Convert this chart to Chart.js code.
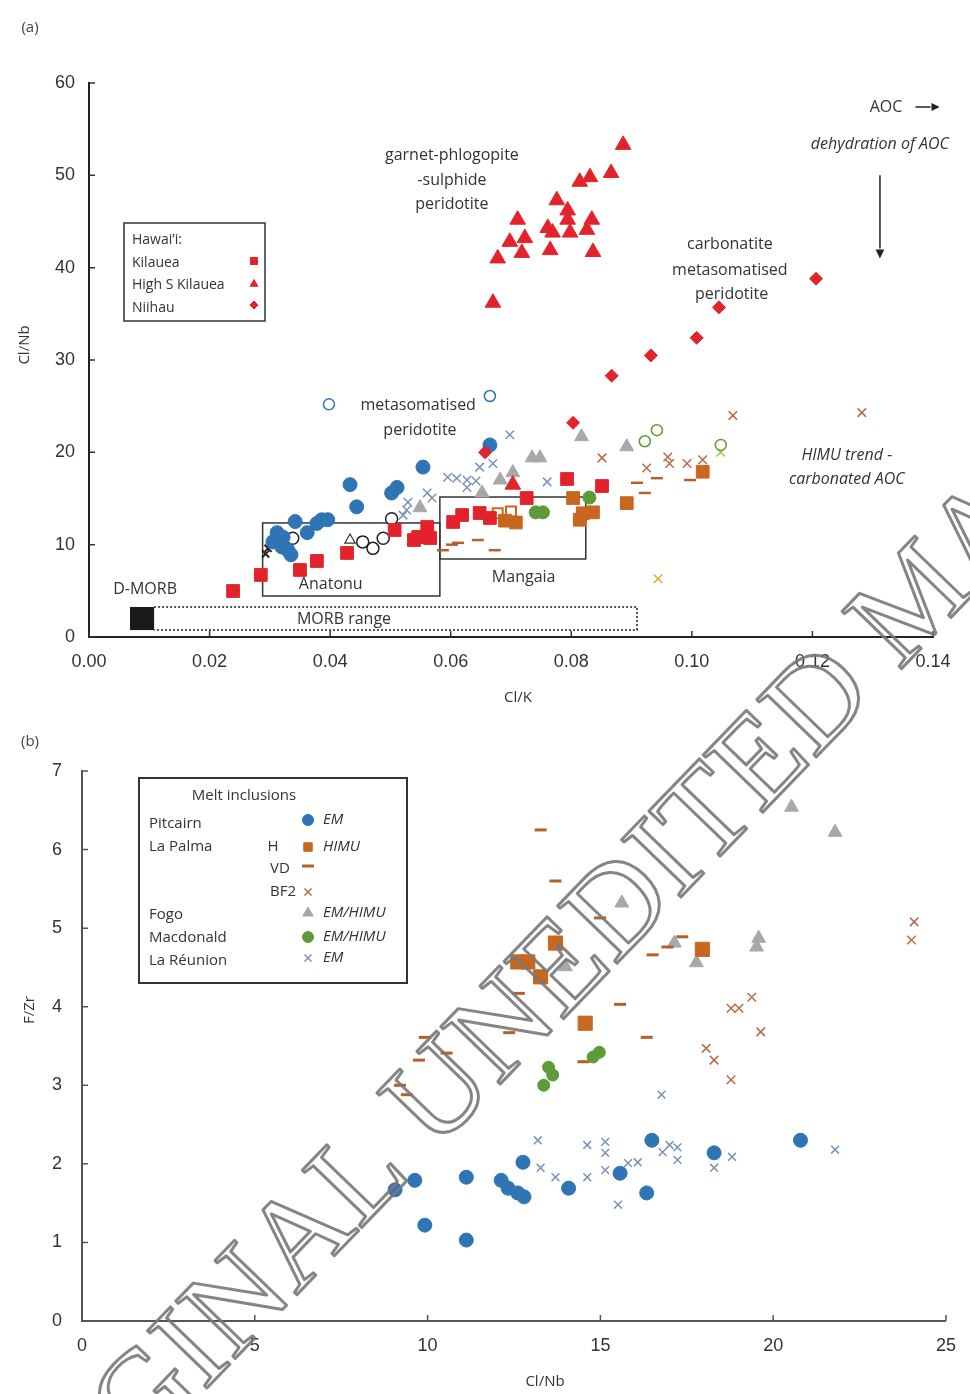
<!DOCTYPE html>
<html>
<head>
<meta charset="utf-8">
<script src="https://cdn.jsdelivr.net/npm/chart.js@4.4.0/dist/chart.umd.min.js"></script>
<style>
body { margin: 0; background: #fff; }
#wrap { position: relative; width: 970px; height: 1394px; }
canvas { position: absolute; left: 0; }
</style>
</head>
<body>
<div id="wrap">
  <canvas id="chartA" width="970" height="720" style="top:0"></canvas>
  <canvas id="chartB" width="970" height="674" style="top:720px"></canvas>
</div>
<script>
// ---------- panel (a): Cl/K vs Cl/Nb ----------
const ticksA_x = [0, 0.02, 0.04, 0.06, 0.08, 0.10, 0.12, 0.14];
const ticksA_y = [0, 10, 20, 30, 40, 50, 60];

const kilaueaX = [0.0239,0.0285,0.0350,0.0378,0.0428,0.0507,0.0539,0.0546,0.0561,0.0566,0.0604,0.0619,0.0648,0.0665,0.0726,0.0793,0.0851];
const kilaueaY = [4.98,6.72,7.26,8.23,9.10,11.59,10.5,10.83,11.91,10.72,12.46,13.21,13.43,12.89,15.05,17.11,16.35];

const highSX = [0.0886,0.0866,0.0831,0.0814,0.0776,0.0794,0.0794,0.0834,0.0826,0.0798,0.0769,0.0761,0.0711,0.0723,0.0698,0.0718,0.0765,0.0836,0.0678,0.0670,0.0703];
const highSY = [53.3,50.25,49.8,49.3,47.3,46.2,45.2,45.2,44.1,43.8,43.8,44.3,45.2,43.2,42.8,41.6,41.9,41.7,41.0,36.2,16.5];

const niihauX = [0.1206,0.1045,0.1008,0.0932,0.0867,0.0803,0.0657];
const niihauY = [38.8,35.7,32.4,30.5,28.3,23.2,20.0];

const pitcairnAX = [0.0554,0.0433,0.0511,0.0502,0.0444,0.0342,0.0386,0.0396,0.0378,0.0312,0.0322,0.0362,0.0320,0.0330,0.0305,0.0665,0.0335];
const pitcairnAY = [18.4,16.5,16.2,15.6,14.1,12.5,12.7,12.7,12.3,11.3,10.8,11.3,9.75,9.4,10.3,20.8,8.9];

const reunionAX = [0.0698,0.0670,0.0648,0.0595,0.0610,0.0627,0.0642,0.0561,0.0569,0.0529,0.0527,0.0521,0.0627,0.0760];
const reunionAY = [21.9,18.8,18.4,17.3,17.2,17.0,16.9,15.6,15.05,14.6,13.75,13.2,16.2,16.8];

const fogoAX = [0.0817,0.0735,0.0748,0.0682,0.0703,0.0652,0.0892,0.0549];
const fogoAY = [21.7,19.4,19.4,17.0,17.8,15.6,20.6,14.0];

const macdonaldAX = [0.0741,0.0753,0.0830];
const macdonaldAY = [13.5,13.5,15.1];

const palmaHAX = [0.0814,0.0836,0.0819,0.0892,0.1018,0.0690,0.0708,0.0803];
const palmaHAY = [12.7,13.5,13.4,14.5,17.9,12.6,12.4,15.05];
const palmaHOpenX = [0.0678,0.0700];
const palmaHOpenY = [13.4,13.6];

const palmaVDAX = [0.0602,0.0587,0.0612,0.0645,0.0673,0.0909,0.0922,0.0997,0.0942];
const palmaVDAY = [10.0,9.4,10.2,10.5,9.4,16.7,15.6,17.0,17.2];

const palmaBF2AX = [0.0851,0.0925,0.0960,0.0963,0.0992,0.1018,0.1068,0.1282];
const palmaBF2AY = [19.4,18.3,19.5,18.8,18.8,19.2,24.0,24.3];

const yellowX = [0.0944,0.1048];
const yellowY = [6.3,20.0];

const openBlueX = [0.0398,0.0665];
const openBlueY = [25.2,26.1];
const openGreenX = [0.0922,0.0942,0.1048];
const openGreenY = [21.2,22.4,20.8];
const openBlackX = [0.0454,0.0471,0.0488,0.0502,0.0338];
const openBlackY = [10.3,9.6,10.7,12.8,10.7];
const openTriX = [0.0433];
const openTriY = [10.5];
const smallBlackX = [0.0297,0.0293];
const smallBlackY = [9.6,9.0];

// ---------- panel (b): Cl/Nb vs F/Zr ----------
const ticksB_x = [0, 5, 10, 15, 20, 25];
const ticksB_y = [0, 1, 2, 3, 4, 5, 6, 7];

const pitcairnBX = [9.06,9.63,9.92,11.12,11.12,12.13,12.33,12.61,12.79,12.76,14.08,15.57,16.49,16.34,18.29,20.79];
const pitcairnBY = [1.67,1.79,1.22,1.83,1.03,1.79,1.69,1.63,1.58,2.02,1.69,1.88,2.30,1.63,2.14,2.30];

const reunionBX = [13.19,13.27,13.70,14.62,14.62,15.14,15.14,15.14,15.51,15.80,16.08,16.80,17.00,17.23,17.23,18.29,18.81,21.79,16.77];
const reunionBY = [2.30,1.95,1.83,2.24,1.83,2.28,2.14,1.92,1.48,2.01,2.02,2.15,2.24,2.21,2.05,1.95,2.09,2.18,2.88];

const macdonaldBX = [13.50,13.62,13.36,14.79,14.97];
const macdonaldBY = [3.23,3.13,3.00,3.36,3.42];

const palmaHBX = [12.61,12.90,13.27,13.70,14.56,17.95];
const palmaHBY = [4.57,4.57,4.38,4.81,3.79,4.73];

const palmaVDBX = [13.27,13.70,14.99,12.64,12.36,9.92,9.75,10.55,9.20,9.40,15.57,16.34,16.51,16.94,17.37,14.51];
const palmaVDBY = [6.25,5.60,5.13,4.17,3.67,3.61,3.32,3.41,3.00,2.88,4.03,3.61,4.66,4.76,4.89,3.30];

const palmaBF2BX = [19.38,18.78,19.01,19.64,18.06,18.29,18.78,24.08,24.00];
const palmaBF2BY = [4.12,3.98,3.98,3.68,3.47,3.32,3.07,5.08,4.85];

const fogoBX = [20.53,21.79,15.62,19.58,19.52,17.78,13.99,17.14];
const fogoBY = [6.54,6.22,5.32,4.87,4.76,4.56,4.51,4.81];

// colours
const RED = '#e3232b';
const BLUE = '#2f74b5';
const STEEL = '#7b93ba';
const ORANGE = '#c9661f';
const BROWN = '#b4602c';
const BF2 = '#b96a4a';
const GREY = '#a8a8a8';
const GREEN = '#5c9a3a';

function pts(xs, ys) {
  return xs.map((x, i) => ({ x: x, y: ys[i] }));
}

function set(label, xs, ys, style, color, r, fill, bw) {
  return {
    label: label,
    data: pts(xs, ys),
    pointStyle: style,
    pointRadius: r,
    pointHoverRadius: r,
    backgroundColor: fill || color,
    borderColor: color,
    pointBorderWidth: bw || 1
  };
}

// inside tick marks + text helpers
function drawInsideTicks(chart, xs, ys, len, color) {
  const ctx = chart.ctx, a = chart.chartArea;
  const sx = chart.scales.x, sy = chart.scales.y;
  ctx.save();
  ctx.strokeStyle = color;
  ctx.lineWidth = 1.5;
  ctx.beginPath();
  xs.forEach(v => { const p = sx.getPixelForValue(v); ctx.moveTo(p, a.bottom); ctx.lineTo(p, a.bottom - len); });
  ys.forEach(v => { const p = sy.getPixelForValue(v); ctx.moveTo(a.left, p); ctx.lineTo(a.left + len, p); });
  ctx.stroke();
  ctx.restore();
}

function txt(ctx, s, x, y, font, align, color) {
  ctx.font = font;
  ctx.textAlign = align || 'center';
  ctx.textBaseline = 'middle';
  ctx.fillStyle = color || '#333';
  ctx.fillText(s, x, y);
}

function marker(ctx, style, x, y, r, color, fill, bw) {
  ctx.save();
  ctx.fillStyle = fill || color;
  ctx.strokeStyle = color;
  ctx.lineWidth = bw || 1;
  Chart.helpers.drawPoint(ctx, { pointStyle: style, radius: r, rotation: 0, borderWidth: bw || 1 }, x, y);
  ctx.restore();
}

function arrow(ctx, x1, y1, x2, y2, head) {
  const ang = Math.atan2(y2 - y1, x2 - x1);
  ctx.beginPath();
  ctx.moveTo(x1, y1);
  ctx.lineTo(x2 - Math.cos(ang) * head, y2 - Math.sin(ang) * head);
  ctx.stroke();
  ctx.beginPath();
  ctx.moveTo(x2, y2);
  ctx.lineTo(x2 - head * Math.cos(ang - 0.45), y2 - head * Math.sin(ang - 0.45));
  ctx.lineTo(x2 - head * Math.cos(ang + 0.45), y2 - head * Math.sin(ang + 0.45));
  ctx.closePath();
  ctx.fill();
}

const watermark = {
  id: 'watermark',
  afterDraw(chart, args, opts) {
    const ctx = chart.ctx;
    ctx.save();
    ctx.translate(632, 900 - opts.top);
    ctx.rotate(-46 * Math.PI / 180);
    ctx.font = '126px "Liberation Serif"';
    ctx.textBaseline = 'middle';
    ctx.strokeStyle = 'rgba(120,120,120,0.9)';
    ctx.lineWidth = 3;
    ctx.lineJoin = 'round';
    const mid = 'UNEDITED';
    const w = ctx.measureText(mid).width;
    const sp = ctx.measureText(' ').width;
    ctx.textAlign = 'center';
    ctx.strokeText(mid, 0, 0);
    ctx.textAlign = 'right';
    ctx.strokeText('ORIGINAL', -w / 2 - sp, 0);
    ctx.textAlign = 'left';
    ctx.strokeText('MANUSCRIPT', w / 2 + sp, 0);
    ctx.restore();
  }
};

const SANS = '"Open Sans", "Noto Sans", sans-serif';

const annotA = {
  id: 'annotA',
  beforeDatasetsDraw(chart) {
    const ctx = chart.ctx;
    const X = v => chart.scales.x.getPixelForValue(v);
    const Y = v => chart.scales.y.getPixelForValue(v);
    ctx.save();
    // D-MORB block and dotted MORB range
    ctx.fillStyle = '#1a1a1a';
    ctx.fillRect(X(0.0068), Y(3.25), X(0.0108) - X(0.0068), Y(0.75) - Y(3.25));
    ctx.strokeStyle = '#555';
    ctx.lineWidth = 2;
    ctx.setLineDash([2, 2]);
    ctx.beginPath();
    ctx.moveTo(X(0.0108), Y(3.25)); ctx.lineTo(X(0.0909), Y(3.25));
    ctx.lineTo(X(0.0909), Y(0.75)); ctx.lineTo(X(0.0108), Y(0.75));
    ctx.stroke();
    ctx.setLineDash([]);
    // Anatonu / Mangaia boxes
    ctx.strokeStyle = '#333';
    ctx.lineWidth = 1.5;
    ctx.strokeRect(X(0.0288), Y(12.35), X(0.0582) - X(0.0288), Y(4.44) - Y(12.35));
    ctx.strokeRect(X(0.0582), Y(15.16), X(0.0824) - X(0.0582), Y(8.45) - Y(15.16));
    ctx.restore();
  },
  afterDatasetsDraw(chart) {
    const ctx = chart.ctx;
    const X = v => chart.scales.x.getPixelForValue(v);
    const Y = v => chart.scales.y.getPixelForValue(v);
    const f = '16px ' + SANS;
    const fi = 'italic 16px ' + SANS;
    ctx.save();
    txt(ctx, 'garnet-phlogopite', X(0.0602), Y(52.2), f);
    txt(ctx, '-sulphide', X(0.0602), Y(49.5), f);
    txt(ctx, 'peridotite', X(0.0602), Y(46.9), f);
    txt(ctx, 'metasomatised', X(0.0546), Y(25.1), f);
    txt(ctx, 'peridotite', X(0.0549), Y(22.4), f);
    txt(ctx, 'carbonatite', X(0.1063), Y(42.5), f);
    txt(ctx, 'metasomatised', X(0.1063), Y(39.75), f);
    txt(ctx, 'peridotite', X(0.1066), Y(37.15), f);
    txt(ctx, 'AOC', X(0.1322), Y(57.4), f);
    txt(ctx, 'dehydration of AOC', X(0.1312), Y(53.4), fi);
    txt(ctx, 'HIMU trend -', X(0.1257), Y(19.7), fi);
    txt(ctx, 'carbonated AOC', X(0.1257), Y(17.1), fi);
    txt(ctx, 'D-MORB', X(0.0093), Y(5.2), f);
    txt(ctx, 'MORB range', X(0.0423), Y(1.95), f);
    txt(ctx, 'Anatonu', X(0.0401), Y(5.74), f);
    txt(ctx, 'Mangaia', X(0.0721), Y(6.4), f);
    ctx.strokeStyle = '#222';
    ctx.fillStyle = '#222';
    ctx.lineWidth = 1.5;
    arrow(ctx, X(0.1371), Y(57.4), X(0.1411), Y(57.4), 9);
    arrow(ctx, X(0.1312), Y(50.0), X(0.1312), Y(41.0), 10);
    // legend box
    ctx.lineWidth = 1.5;
    ctx.strokeStyle = '#333';
    ctx.strokeRect(124, 223, 141, 98);
    const lf = '14px ' + SANS;
    txt(ctx, 'Hawai\u2019i:', 132, 240, lf, 'left');
    txt(ctx, 'Kilauea', 132, 263, lf, 'left');
    txt(ctx, 'High S Kilauea', 132, 285, lf, 'left');
    txt(ctx, 'Niihau', 132, 308, lf, 'left');
    marker(ctx, 'rect', 254, 261, 5, RED);
    marker(ctx, 'triangle', 254, 284, 4.5, RED);
    marker(ctx, 'rectRot', 254, 305, 4, RED);
    txt(ctx, '(a)', 30, 28, '15px ' + SANS, 'center', '#444');
    txt(ctx, 'Cl/K', 518, 698, '15px ' + SANS, 'center', '#333');
    ctx.translate(25, 345);
    ctx.rotate(-Math.PI / 2);
    txt(ctx, 'Cl/Nb', 0, 0, '15px ' + SANS, 'center', '#333');
    ctx.restore();
  },
  afterDraw(chart) {
    drawInsideTicks(chart, ticksA_x, ticksA_y, 6, '#333');
  }
};

const annotB = {
  id: 'annotB',
  afterDatasetsDraw(chart) {
    const ctx = chart.ctx;
    ctx.save();
    ctx.lineWidth = 2;
    ctx.strokeStyle = '#333';
    ctx.strokeRect(139, 58, 268, 205);
    const lf = '15px ' + SANS;
    const li = 'italic 15px ' + SANS;
    txt(ctx, 'Melt inclusions', 244, 76, lf);
    txt(ctx, 'Pitcairn', 149, 104, lf, 'left');
    txt(ctx, 'La Palma', 149, 127, lf, 'left');
    txt(ctx, 'Fogo', 149, 195, lf, 'left');
    txt(ctx, 'Macdonald', 149, 218, lf, 'left');
    txt(ctx, 'La R\u00e9union', 149, 241, lf, 'left');
    txt(ctx, 'H', 273, 127, lf);
    txt(ctx, 'VD', 280, 149, lf);
    txt(ctx, 'BF2', 283, 172, lf);
    marker(ctx, 'circle', 308, 100, 5.5, BLUE);
    marker(ctx, 'rect', 308, 127, 6, ORANGE);
    marker(ctx, 'line', 308, 146, 6, BROWN, null, 3);
    marker(ctx, 'crossRot', 308, 172, 5, BF2, null, 1.5);
    marker(ctx, 'triangle', 308, 193, 6, GREY);
    marker(ctx, 'circle', 308, 217, 5.5, GREEN);
    marker(ctx, 'crossRot', 308, 238, 5, STEEL, null, 1.5);
    txt(ctx, 'EM', 323, 100, li, 'left');
    txt(ctx, 'HIMU', 323, 127, li, 'left');
    txt(ctx, 'EM/HIMU', 323, 193, li, 'left');
    txt(ctx, 'EM/HIMU', 323, 217, li, 'left');
    txt(ctx, 'EM', 323, 238, li, 'left');
    txt(ctx, '(b)', 30, 22, '15px ' + SANS, 'center', '#444');
    txt(ctx, 'Cl/Nb', 545, 662, '15px ' + SANS, 'center', '#333');
    ctx.translate(30, 290);
    ctx.rotate(-Math.PI / 2);
    txt(ctx, 'F/Zr', 0, 0, '15px ' + SANS, 'center', '#333');
    ctx.restore();
  },
  afterDraw(chart) {
    drawInsideTicks(chart, ticksB_x, ticksB_y, 6, '#555');
  }
};

function axis(min, max, step, fmt, width, height, color, pad) {
  return {
    type: 'linear',
    min: min,
    max: max,
    grid: { display: false, drawTicks: false },
    border: { display: true, color: color, width: 2 },
    ticks: {
      stepSize: step,
      autoSkip: false,
      maxRotation: 0,
      padding: pad,
      color: '#333',
      font: { family: '"Liberation Sans", Arial, sans-serif', size: 18 },
      callback: fmt
    },
    afterFit(scale) {
      if (width) scale.width = width;
      if (height) scale.height = height;
    }
  };
}

new Chart(document.getElementById('chartA'), {
  type: 'scatter',
  data: {
    datasets: [
      set('High S Kilauea', highSX, highSY, 'triangle', RED, 9),
      set('Niihau', niihauX, niihauY, 'rectRot', RED, 6.5),
      set('Kilauea', kilaueaX, kilaueaY, 'rect', RED, 9),
      set('La Palma H', palmaHAX, palmaHAY, 'rect', ORANGE, 9),
      set('La Palma H open', palmaHOpenX, palmaHOpenY, 'rect', ORANGE, 7, '#fff', 2),
      set('Macdonald', macdonaldAX, macdonaldAY, 'circle', GREEN, 6.5),
      set('Fogo', fogoAX, fogoAY, 'triangle', GREY, 8),
      set('La Palma VD', palmaVDAX, palmaVDAY, 'line', BROWN, 6, null, 2.5),
      set('La Palma BF2', palmaBF2AX, palmaBF2AY, 'crossRot', BF2, 6, null, 1.5),
      set('La Reunion', reunionAX, reunionAY, 'crossRot', STEEL, 6, null, 1.5),
      set('Pitcairn', pitcairnAX, pitcairnAY, 'circle', BLUE, 7),
      set('open blue', openBlueX, openBlueY, 'circle', BLUE, 5.5, '#fff', 1.5),
      set('open green', openGreenX, openGreenY, 'circle', GREEN, 5.5, '#fff', 1.5),
      set('open black', openBlackX, openBlackY, 'circle', '#222', 6, '#fff', 1.5),
      set('open triangle', openTriX, openTriY, 'triangle', '#333', 6, '#fff', 1.2),
      set('small black', smallBlackX, smallBlackY, 'crossRot', '#222', 5, null, 2),
      {
        label: 'yellow',
        data: pts(yellowX, yellowY),
        pointStyle: 'crossRot',
        pointRadius: 6,
        pointBorderWidth: 1.5,
        borderColor: ['#e2ad22', '#a9c63c'],
        backgroundColor: ['#e2ad22', '#a9c63c']
      }
    ]
  },
  options: {
    responsive: false,
    animation: false,
    layout: { padding: { top: 83, right: 37, left: 0, bottom: 0 } },
    plugins: { legend: { display: false }, tooltip: { enabled: false }, watermark: { top: 0 } },
    scales: {
      x: axis(0, 0.14, 0.02, v => v.toFixed(2), null, 83, '#222', 14),
      y: axis(0, 60, 10, v => v, 89, null, '#222', 14)
    }
  },
  plugins: [annotA, watermark]
});

new Chart(document.getElementById('chartB'), {
  type: 'scatter',
  data: {
    datasets: [
      set('Pitcairn', pitcairnBX, pitcairnBY, 'circle', BLUE, 7),
      set('La Reunion', reunionBX, reunionBY, 'crossRot', STEEL, 5.5, null, 1.5),
      set('Macdonald', macdonaldBX, macdonaldBY, 'circle', GREEN, 6),
      set('La Palma H', palmaHBX, palmaHBY, 'rect', ORANGE, 10),
      set('La Palma VD', palmaVDBX, palmaVDBY, 'line', BROWN, 6, null, 3),
      set('La Palma BF2', palmaBF2BX, palmaBF2BY, 'crossRot', BF2, 6, null, 1.5),
      set('Fogo', fogoBX, fogoBY, 'triangle', GREY, 8)
    ]
  },
  options: {
    responsive: false,
    animation: false,
    layout: { padding: { top: 51, right: 16, left: 0, bottom: 0 } },
    plugins: { legend: { display: false }, tooltip: { enabled: false }, watermark: { top: 720 } },
    scales: {
      x: axis(0, 25, 5, v => v, null, 73, '#555', 14),
      y: axis(0, 7, 1, v => v, 82, null, '#555', 20)
    }
  },
  plugins: [annotB, watermark]
});
</script>
</body>
</html>
